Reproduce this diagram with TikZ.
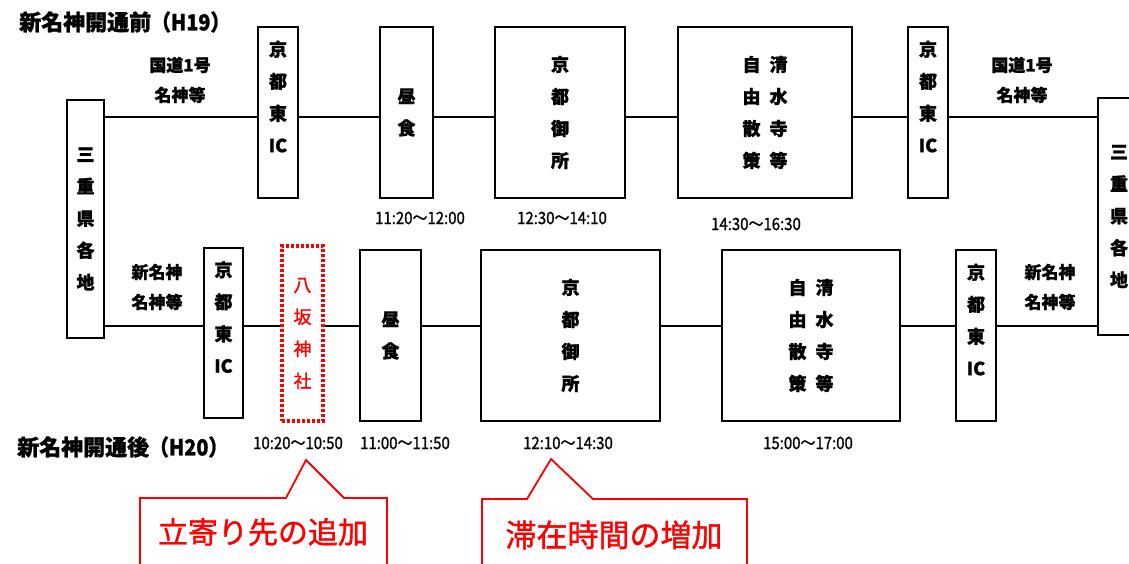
\documentclass[tikz,border=0pt]{standalone}
\usepackage{fontspec}
\setmainfont{Noto Sans CJK JP}[FakeBold=1.2]
\usepackage{graphicx}
\begin{document}
\begin{tikzpicture}[x=1pt,y=-1pt,
  box/.style={draw=black,line width=2.6pt,fill=white,inner sep=0pt,align=center,
    font=\fontsize{18}{32}\selectfont\bfseries,minimum height=171pt},
  redbox/.style={draw=red,line width=3.2pt,dash pattern=on 3pt off 2pt,inner sep=0pt,align=center,
    text=red,font=\fontsize{18}{32}\selectfont},
  conn/.style={line width=2.2pt,draw=black},
  lbl/.style={align=center,font=\fontsize{17}{30}\selectfont\bfseries,inner sep=0pt},
  tim/.style={font=\fontsize{17}{17}\selectfont,inner sep=0pt},
  ttl/.style={font=\fontsize{22}{22}\selectfont\bfseries,inner sep=0pt,anchor=west},
  call/.style={draw=red,line width=1.8pt,line join=miter},
  calltxt/.style={text=red,inner sep=0pt}
]
\useasboundingbox (0,0) rectangle (1129,564);
\clip (0,0) rectangle (1129,564);
\fill[white] (0,0) rectangle (1129,564);

% titles
\node[ttl] (t1) at (19,22) {新名神開通前\scalebox{0.9}[1]{（H19）}};
\node[ttl] (t2) at (17,447) {新名神開通後\scalebox{0.9}[1]{（H20）}};

% coordinates for connector rows
\coordinate (r1) at (0,117);
\coordinate (r2) at (0,326);

% end boxes
\node[box,minimum width=37pt,minimum height=238pt] (mieL) at (85.5,219) {三\\重\\県\\各\\地};
\node[box,minimum width=42pt,minimum height=237pt] (mieR) at (1119,216.5) {三\\重\\県\\各\\地};

% top row
\node[box,minimum width=40pt] (ic1) at (278,112.5) {京\\都\\東\\IC\\~};
\node[box,minimum width=53pt] (lun1) at (406.5,112.5) {昼\\食};
\node[box,minimum width=130pt] (gos1) at (560,112.5) {京\\都\\御\\所};
\node[box,minimum width=174pt] (san1) at (765,112.5) {自\hspace{9pt}清\\由\hspace{9pt}水\\散\hspace{9pt}寺\\策\hspace{9pt}等};
\node[box,minimum width=40pt] (ic2) at (928,112.5) {京\\都\\東\\IC\\~};

\draw[conn] (mieL.east |- r1) -- (ic1.west |- r1);
\draw[conn] (ic1.east |- r1) -- (lun1.west |- r1);
\draw[conn] (lun1.east |- r1) -- (gos1.west |- r1);
\draw[conn] (gos1.east |- r1) -- (san1.west |- r1);
\draw[conn] (san1.east |- r1) -- (ic2.west |- r1);
\draw[conn] (ic2.east |- r1) -- (mieR.west |- r1);

\node[lbl] (rd1) at (180,80) {国道1号\\名神等};
\node[lbl] (rd2) at (1022,80) {国道1号\\名神等};

\node[tim] (tm1) at (420,218) {\scalebox{0.88}[1]{11:20～12:00}};
\node[tim] (tm2) at (562,218) {\scalebox{0.88}[1]{12:30～14:10}};
\node[tim] (tm3) at (756,224) {\scalebox{0.88}[1]{14:30～16:30}};

% bottom row
\node[box,minimum width=39pt,minimum height=170pt] (ic3) at (223.5,333) {京\\都\\東\\IC\\~};
\node[redbox,minimum width=41pt,minimum height=175pt] (yas) at (302.5,333.5) {八\\坂\\神\\社};
\node[box,minimum width=61pt] (lun2) at (390.5,335.5) {昼\\食};
\node[box,minimum width=179pt] (gos2) at (570.5,335.5) {京\\都\\御\\所};
\node[box,minimum width=178pt] (san2) at (811,335.5) {自\hspace{9pt}清\\由\hspace{9pt}水\\散\hspace{9pt}寺\\策\hspace{9pt}等};
\node[box,minimum width=40pt] (ic4) at (976,335.5) {京\\都\\東\\IC\\~};

\draw[conn] (mieL.east |- r2) -- (ic3.west |- r2);
\draw[conn] (ic3.east |- r2) -- (yas.west |- r2);
\draw[conn] (yas.east |- r2) -- (lun2.west |- r2);
\draw[conn] (lun2.east |- r2) -- (gos2.west |- r2);
\draw[conn] (gos2.east |- r2) -- (san2.west |- r2);
\draw[conn] (san2.east |- r2) -- (ic4.west |- r2);
\draw[conn] (ic4.east |- r2) -- (mieR.west |- r2);

\node[lbl] (rd3) at (157,287) {新名神\\名神等};
\node[lbl] (rd4) at (1050,287) {新名神\\名神等};

\node[tim] (tm4) at (298,443) {\scalebox{0.88}[1]{10:20～10:50}};
\node[tim] (tm5) at (405,443) {\scalebox{0.88}[1]{11:00～11:50}};
\node[tim] (tm6) at (568,443) {\scalebox{0.88}[1]{12:10～14:30}};
\node[tim] (tm7) at (808,443) {\scalebox{0.88}[1]{15:00～17:00}};

% callouts
\draw[call] (140,575) -- (140,498) -- (286,498) -- (306,460) -- (344,498) -- (387,498) -- (387,575);
\node[calltxt,font=\fontsize{30}{30}\selectfont] (c1) at (263,532) {立寄り先の追加};
\draw[call] (482,575) -- (482,499) -- (527,499) -- (551,459) -- (593,499) -- (747,499) -- (747,575);
\node[calltxt,font=\fontsize{31}{31}\selectfont] (c2) at (614,535) {滞在時間の増加};
\end{tikzpicture}
\end{document}
